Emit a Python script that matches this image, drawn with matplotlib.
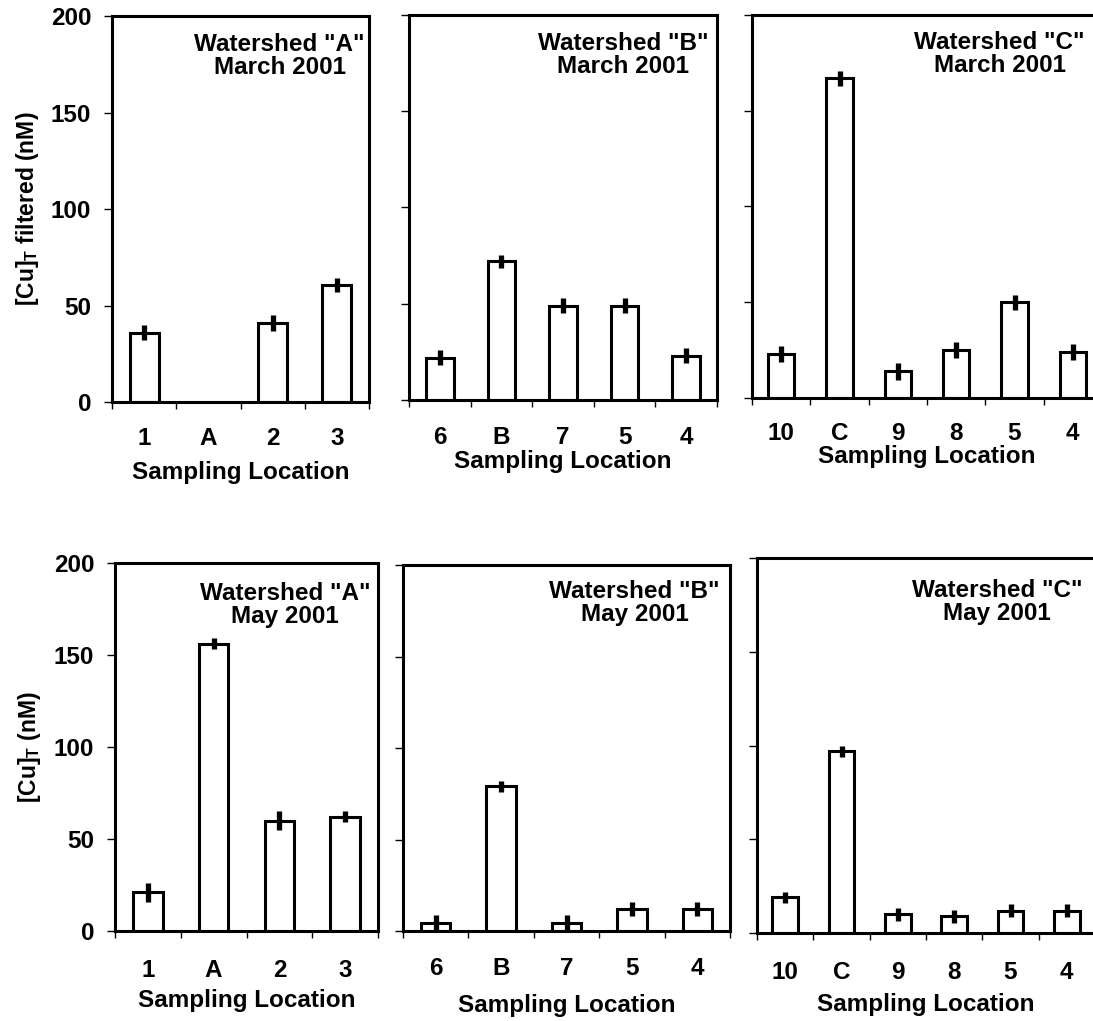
import numpy as np
import matplotlib
matplotlib.use('Agg')
import matplotlib.pyplot as plt

plt.rcParams['font.family'] = ['Liberation Sans', 'DejaVu Sans']
plt.rcParams['font.weight'] = 'bold'
plt.rcParams['mathtext.fontset'] = 'custom'
plt.rcParams['mathtext.bf'] = 'Liberation Sans:bold'

# sampling locations per watershed
sites_a = ['1', 'A', '2', '3']
sites_b = ['6', 'B', '7', '5', '4']
sites_c = ['10', 'C', '9', '8', '5', '4']

# March 2001, filtered [Cu]T (nM); site A not sampled
march_a = [36, np.nan, 41, 60.5]
march_a_err = [4, np.nan, 4, 3.5]
march_b = [22, 72, 49, 49, 23]
march_b_err = [4, 3.5, 4, 4, 4]
march_c = [23, 167, 14, 25, 50, 24]
march_c_err = [4, 4, 4.5, 4, 4, 4]

# May 2001, total [Cu]T (nM)
may_a = [21, 156, 60, 62]
may_a_err = [5, 3, 5, 3]
may_b = [4.5, 79, 4.5, 12, 12]
may_b_err = [4, 3, 4, 4, 4]
may_c = [19, 97, 10, 9, 12, 12]
may_c_err = [3, 3, 3.5, 3.5, 3.5, 3.5]

W, H = 1093, 1021
fig = plt.figure(figsize=(W / 100, H / 100), dpi=100)

def px_axes(x0, x1, y0, y1):
    # axes from pixel box (left, right, top, bottom)
    return fig.add_axes([x0 / W, 1 - y1 / H, (x1 - x0) / W, (y1 - y0) / H])

panels = [
    # box, sites, values, errors, title, ylabel, tick pad, label pad, title pos
    ((112, 369, 16, 402), sites_a, march_a, march_a_err, 'Watershed "A"\nMarch 2001',
     r'[Cu]$_\mathbf{T}$ filtered (nM)', 18, 8, (0.984, 0.957)),
    ((409, 717, 15, 400), sites_b, march_b, march_b_err, 'Watershed "B"\nMarch 2001',
     None, 18.5, 1, (0.971, 0.957)),
    ((752, 1102, 15, 398), sites_c, march_c, march_c_err, 'Watershed "C"\nMarch 2001',
     None, 17, 0, (0.951, 0.957)),
    ((115, 378, 563, 931), sites_a, may_a, may_a_err, 'Watershed "A"\nMay 2001',
     r'[Cu]$_\mathbf{T}$ (nM)', 20.5, 5, (0.970, 0.948)),
    ((403, 730, 565, 931), sites_b, may_b, may_b_err, 'Watershed "B"\nMay 2001',
     None, 18.5, 10, (0.969, 0.960)),
    ((757, 1095, 558, 933), sites_c, may_c, may_c_err, 'Watershed "C"\nMay 2001',
     None, 20.5, 6, (0.962, 0.945)),
]

for box, sites, vals, errs, title, ylab, tpad, lpad, tpos in panels:
    ax = px_axes(*box)
    x = np.arange(len(sites))
    vals = np.array(vals, dtype=float)
    errs = np.array(errs, dtype=float)
    ok = ~np.isnan(vals)
    ax.bar(x[ok], vals[ok], width=0.45, facecolor='white', edgecolor='black',
           linewidth=2.2, zorder=2)
    ax.errorbar(x[ok], vals[ok], yerr=errs[ok], fmt='none', ecolor='black',
                elinewidth=3.8, capsize=0, zorder=3)

    ax.set_xlim(-0.5, len(sites) - 0.5)
    ax.set_ylim(0, 200)
    ax.set_xticks(x)
    ax.set_xticklabels(sites)
    ax.set_xticks(np.arange(len(sites) + 1) - 0.5, minor=True)
    ax.tick_params(axis='x', which='major', length=0, pad=tpad, labelsize=17.5)
    ax.tick_params(axis='x', which='minor', length=5, width=1, direction='out')
    ax.set_yticks([0, 50, 100, 150, 200])
    ax.tick_params(axis='y', length=6, width=1, direction='out', labelsize=17.5, pad=9)
    if ylab is None:
        ax.tick_params(axis='y', labelleft=False)
    else:
        ax.set_ylabel(ylab, fontsize=16.5, fontweight='bold')
        ax.yaxis.set_label_coords(-0.275, 0.5)
    for s in ax.spines.values():
        s.set_linewidth(2.2)
    ax.set_xlabel('Sampling Location', fontsize=17.5, fontweight='bold', labelpad=lpad)
    ax.text(tpos[0], tpos[1], title, transform=ax.transAxes, ha='right', va='top',
            multialignment='center', fontsize=17.5, fontweight='bold', linespacing=1.0)

fig.savefig('out.png', dpi=100)
